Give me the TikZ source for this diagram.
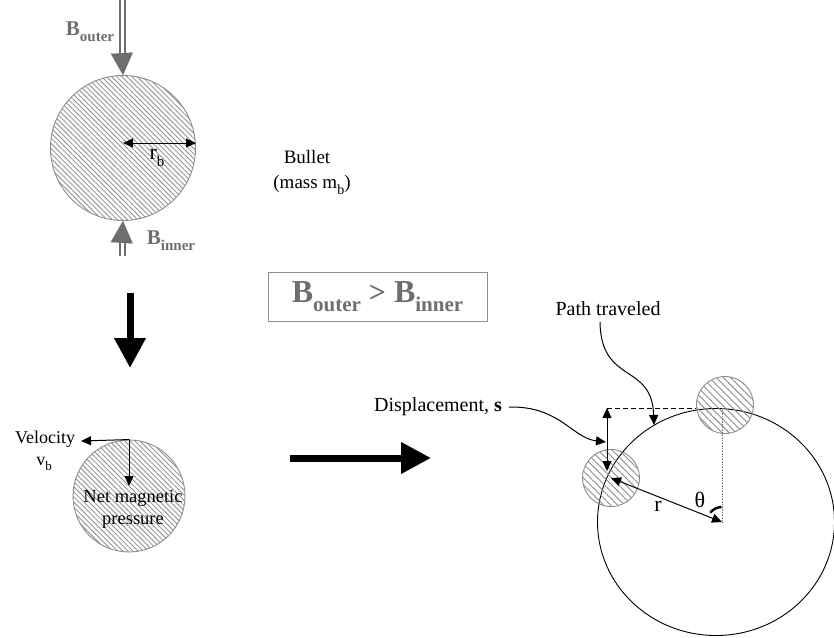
\documentclass[tikz,border=0pt]{standalone}
\usepackage{fontspec}
\setmainfont{Liberation Serif}
\usetikzlibrary{arrows.meta,patterns.meta,shapes.geometric}
\definecolor{bgray}{HTML}{6E6E6E}
\definecolor{hgray}{HTML}{8C8C8C}
\definecolor{boxgray}{HTML}{909090}
\newcommand{\lowsub}[2]{\raisebox{-0.3em}{\fontsize{#1}{#1}\selectfont #2}}
\begin{document}
\begin{tikzpicture}[x=1pt,y=-1pt,
  ball/.style={circle, draw=hgray, line width=0.9pt, inner sep=0pt,
    pattern={Lines[angle=-45,distance=3.6pt,line width=0.8pt]}, pattern color=hgray},
  sball/.style={circle, draw=hgray, line width=0.9pt, inner sep=0pt, minimum size=57pt,
    pattern={Lines[angle=-45,distance=5pt,line width=0.9pt]}, pattern color=hgray},
  lbl/.style={inner sep=1pt, font=\fontsize{19}{22}\selectfont},
  glbl/.style={inner sep=1pt, text=bgray, font=\fontsize{21}{24}\selectfont\bfseries},
  bigarrow/.style={line width=7pt, -{Triangle[length=30pt,width=30pt]}},
  grayshaft/.style={draw=bgray, double=white, line width=2pt, double distance=3pt},
  graytip/.style={draw=bgray, line width=0.1pt, -{Triangle[length=22pt,width=22pt]}},
  thin arrow/.style={line width=1pt, -{Triangle[length=10pt,width=9pt]}},
  dthin arrow/.style={line width=1pt, {Triangle[length=10pt,width=9pt]}-{Triangle[length=10pt,width=9pt]}},
]
\useasboundingbox (0,0) rectangle (834,637);

% ---------- top bullet ----------
\node[ball, minimum size=145pt] (b1) at (123,148) {};
\coordinate (bo0) at (122,0);
\coordinate (bo1) at (122,56);
\coordinate (bi0) at (122,256);
\coordinate (bi1) at (122,238);
\draw[grayshaft] (bo0) -- (bo1);
\draw[graytip, fill=bgray] (bo1) -- (b1.north);
\draw[grayshaft] (bi0) -- (bi1);
\draw[graytip, fill=bgray] (bi1) -- (b1.south);
\node[glbl] (lbo) at (90,32) {B\lowsub{15}{outer}};
\node[glbl] (lbi) at (171,241) {B\lowsub{15}{inner}};
\coordinate (rbc) at (123,143);
\coordinate (rbe) at (196,143);
\draw[dthin arrow] (rbc) -- (rbe);
\node[lbl, font=\fontsize{22}{24}\selectfont] (rb) at (157,158) {r\lowsub{15}{b}};

\node[lbl] (bullet) at (307,157) {Bullet};
\node[lbl] (mass) at (312,185) {(mass m\lowsub{14}{b})};

% ---------- inequality box ----------
\node[draw=boxgray, line width=0.9pt, minimum width=219pt, minimum height=49pt,
      text=bgray, font=\fontsize{32}{34}\selectfont\bfseries] (ineq) at (377.5,296.5)
      {B\lowsub{21}{outer} {\fontsize{30}{30}\selectfont >} B\lowsub{21}{inner}};

% ---------- big arrows ----------
\coordinate (da0) at (130,293);
\coordinate (da1) at (130,368);
\draw[bigarrow] (da0) -- (da1);
\coordinate (ha0) at (290,458);
\coordinate (ha1) at (431,458);
\draw[bigarrow] (ha0) -- (ha1);

% ---------- lower bullet ----------
\node[ball, minimum size=112pt] (b2) at (129,496) {};
\coordinate (vtip) at (81,441);
\coordinate (ptip) at (129,486);
\draw[thin arrow, shorten <=-0.5pt] (b2.north) -- (vtip);
\draw[thin arrow] (b2.north) -- (ptip);
\node[lbl, font=\fontsize{18}{21}\selectfont] (vel) at (45,439) {Velocity};
\node[lbl, font=\fontsize{18}{21}\selectfont] (vb) at (44,464) {v\lowsub{13}{b}};
\node[lbl, align=center, font=\fontsize{18.5}{22}\selectfont] (nmp) at (133,509) {Net magnetic\\pressure};

% ---------- orbit ----------
\node[draw, ellipse, line width=0.9pt, inner sep=0pt, minimum width=237pt, minimum height=227pt] (orbit) at (716,522) {};
\node[sball] (s1) at (611,478) {};
\node[sball] (s2) at (725,405) {};
\coordinate (O) at (722,522);
\coordinate (Otop) at (722,408);
\draw[densely dotted, line width=0.6pt, draw=gray] (Otop) -- (O);
\draw[dthin arrow] (s1.center) -- (O);
\node[lbl, font=\fontsize{22}{24}\selectfont] (rl) at (658,506) {r};
\node[lbl, font=\fontsize{22}{24}\selectfont] (th) at (700,500) {θ};
\draw[line width=2.4pt] ([shift={(268:15)}]O) arc[start angle=268, end angle=218, radius=15];

\coordinate (dtop) at (607,408);
\coordinate (dbot) at (607,471);
\draw[dthin arrow] (dbot) -- (dtop);
\draw[dash pattern=on 5pt off 3pt, line width=0.9pt] (dtop) -- (s2.west |- dtop);

\node[lbl, anchor=west, font=\fontsize{20}{22}\selectfont] (disp) at (373,407) {Displacement, \textbf{s}};
\coordinate (dtip) at (606,442);
\draw[thin arrow] ([xshift=6pt]disp.east) .. controls (560,406) and (572,438) .. (dtip);

\node[lbl, font=\fontsize{20}{22}\selectfont] (path) at (608,309) {Path traveled};
\coordinate (ptip2) at (654,425);
\draw[thin arrow] (600,322) .. controls (601,385) and (652,362) .. (ptip2);
\end{tikzpicture}
\end{document}
